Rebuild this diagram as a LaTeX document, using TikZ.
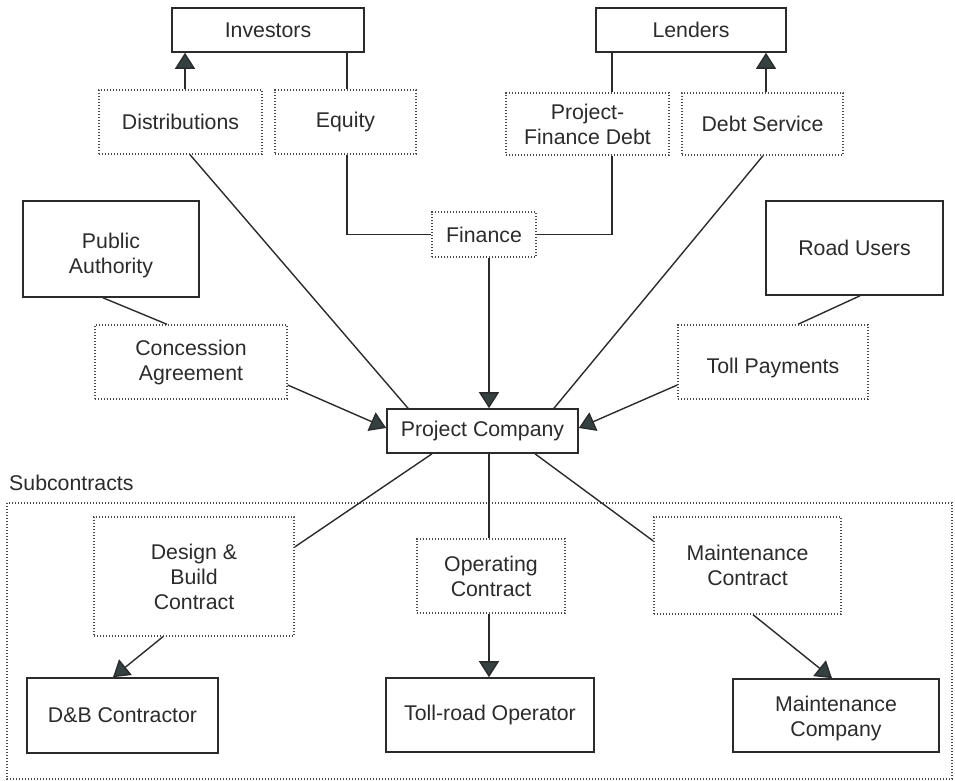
\documentclass[tikz,border=0pt]{standalone}
\usepackage{fontspec}
\setmainfont{Liberation Sans}
\usetikzlibrary{arrows.meta}
\definecolor{ink}{HTML}{2B2B2B}
\definecolor{tipc}{HTML}{354040}
\definecolor{dotc}{HTML}{4A4A4A}
\begin{document}
\begin{tikzpicture}[x=1pt,y=-1pt,
  every node/.style={font=\fontsize{21.3}{25}\selectfont, text=ink, align=center, inner sep=0pt},
  solidbox/.style={draw=ink, line width=1.6pt, rectangle},
  dotbox/.style={draw=dotc, line width=1.4pt, dash pattern=on 1.4pt off 1.6pt, rectangle},
  conn/.style={draw=ink, line width=1.4pt},
  arr/.style={conn, -{Triangle[width=20pt,length=16pt,fill=tipc]}}
]
\useasboundingbox (0,0) rectangle (955,781);
% subcontracts frame
\node[anchor=west] (sublabel) at (9,483) {Subcontracts};
\draw[dotc, line width=1.3pt, dash pattern=on 1.4pt off 1.6pt] (7,503) rectangle (952,779);

% boxes
\node[solidbox, minimum width=192, minimum height=44] (inv) at (268,30) {Investors};
\node[solidbox, minimum width=190, minimum height=44] (lend) at (691,30) {Lenders};
\node[dotbox, minimum width=163, minimum height=64] (dist) at (180.5,122) {Distributions};
\node[dotbox, minimum width=141, minimum height=64] (eq) at (345.5,122) {Equity};
\node[dotbox, minimum width=163, minimum height=62] (pfd) at (587.5,124) {Project-\\Finance Debt};
\node[dotbox, minimum width=161, minimum height=62] (ds) at (762.5,124) {Debt Service};
\node[dotbox, minimum width=104, minimum height=45] (fin) at (484,234.5) {Finance};
\node[solidbox, minimum width=176, minimum height=96,
  label={[yshift=-6pt]center:Public\\Authority}] (pa) at (111,249) {};
\node[dotbox, minimum width=192, minimum height=74] (ca) at (191,362) {Concession\\Agreement};
\node[solidbox, minimum width=177, minimum height=94] (ru) at (854.5,248) {Road Users};
\node[dotbox, minimum width=190, minimum height=74,
  label={[yshift=-6pt]center:Toll Payments}] (tp) at (773,362) {};
\node[solidbox, minimum width=191, minimum height=44] (pc) at (482.5,431) {Project Company};
\node[dotbox, minimum width=200, minimum height=119] (dbc) at (194,576.5) {Design \&\\Build\\Contract};
\node[dotbox, minimum width=148, minimum height=74] (oc) at (491,576) {Operating\\Contract};
\node[dotbox, minimum width=187, minimum height=97] (mc) at (747.5,565.5) {Maintenance\\Contract};
\node[solidbox, minimum width=191, minimum height=75] (dbk) at (122.5,715.5) {D\&B Contractor};
\node[solidbox, minimum width=208, minimum height=74] (tro) at (490,715) {Toll-road Operator};
\node[solidbox, minimum width=206, minimum height=73,
  label={[yshift=-3pt]center:Maintenance\\Company}] (mco) at (836,715.5) {};

% connectors (top)
\draw[arr] (dist.north -| 185,0) -- (inv.south -| 185,0);
\draw[conn] (eq.north -| 347,0) -- (inv.south -| 347,0);
\draw[conn] (pfd.north -| 612,0) -- (lend.south -| 612,0);
\draw[arr] (ds.north -| 766,0) -- (lend.south -| 766,0);
\draw[conn] (eq.south -| 347,0) |- (fin.west);
\draw[conn] (pfd.south -| 612,0) |- (fin.east);
\draw[arr] (fin.south -| 489,0) -- (pc.north -| 489,0);
\draw[conn] (dist.south -| 190,0) -- (pc.north -| 408,0);
\draw[conn] (ds.south -| 763,0) -- (pc.north -| 554,0);
% sides
\draw[conn] (pa.south -| 103,0) -- (ca.north -| 167,0);
\draw[arr] (ca.east |- 0,385) -- (pc.west |- 0,428);
\draw[conn] (ru.south -| 860,0) -- (tp.north -| 798,0);
\draw[arr] (tp.west |- 0,385) -- (pc.east |- 0,428);
% bottom
\draw[conn] (pc.south -| 432,0) -- (dbc.east |- 0,547);
\draw[conn] (pc.south -| 489,0) -- (oc.north -| 489,0);
\draw[conn] (pc.south -| 535,0) -- (mc.west |- 0,541);
\draw[arr] (dbc.south -| 163,0) -- (dbk.north -| 113,0);
\draw[arr] (oc.south -| 489,0) -- (tro.north -| 489,0);
\draw[arr] (mc.south -| 753,0) -- (mco.north -| 832,0);
\end{tikzpicture}
\end{document}
